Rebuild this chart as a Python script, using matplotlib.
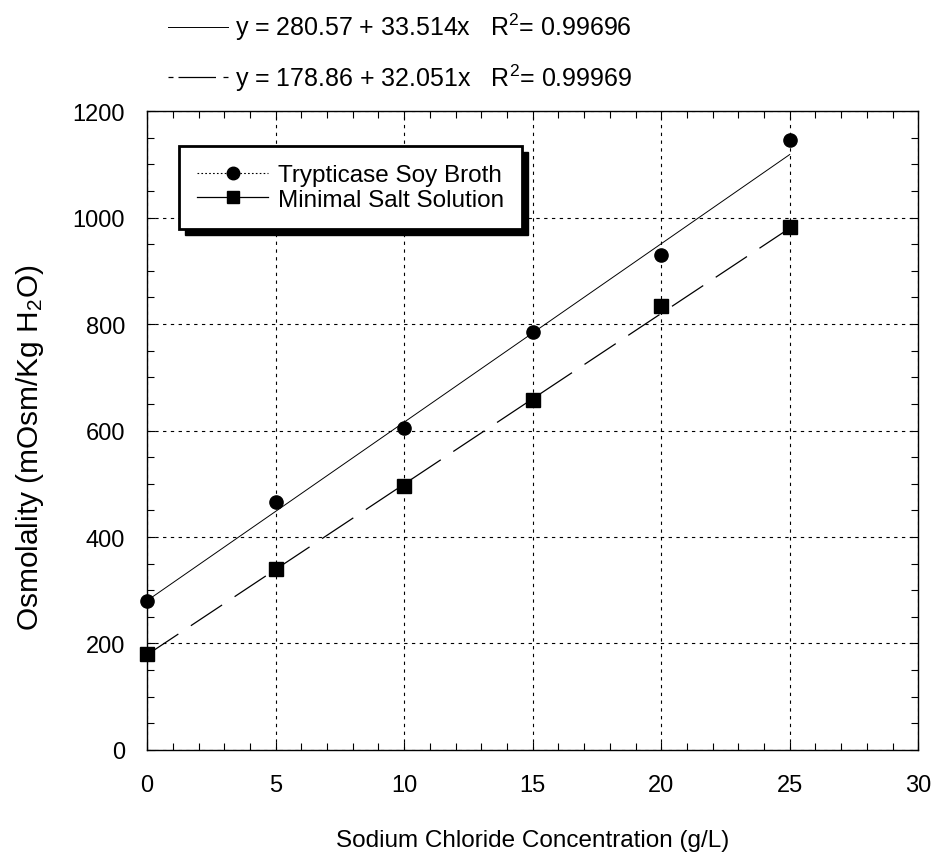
import matplotlib
matplotlib.use("Agg")
import matplotlib.pyplot as plt
import numpy as np
from matplotlib.lines import Line2D
from matplotlib.patches import Rectangle
from matplotlib.ticker import MultipleLocator

plt.rcParams["font.family"] = ["Liberation Sans", "DejaVu Sans"]
plt.rcParams["mathtext.default"] = "regular"

# ---------------------------------------------------------
# DATA
# ---------------------------------------------------------
nacl = [0, 5, 10, 15, 20, 25]
tsb = [280, 465, 605, 785, 930, 1145]
mss = [180, 340, 495, 657, 833, 983]

tsb_fit = (280.57, 33.514, 0.99696)
mss_fit = (178.86, 32.051, 0.99969)

# ---------------------------------------------------------
# FIGURE
# ---------------------------------------------------------
fig = plt.figure(figsize=(9.37, 8.53), dpi=100)
ax = fig.add_axes([0.157, 0.1196, 0.823, 0.749])

xfit = np.array([nacl[0], nacl[-1]])
fit1, = ax.plot(xfit, tsb_fit[0] + tsb_fit[1] * xfit, color="black", lw=0.7)
fit2, = ax.plot(xfit, mss_fit[0] + mss_fit[1] * xfit, color="black", lw=0.9,
                dashes=(30, 12))

ax.plot(nacl, tsb, linestyle="none", marker="o", ms=9.5, color="black",
        clip_on=False, zorder=3)
ax.plot(nacl, mss, linestyle="none", marker="s", ms=10, color="black",
        clip_on=False, zorder=3)

ax.set_xlim(0, 30)
ax.set_ylim(0, 1200)
ax.xaxis.set_major_locator(MultipleLocator(5))
ax.xaxis.set_minor_locator(MultipleLocator(1))
ax.yaxis.set_major_locator(MultipleLocator(200))
ax.yaxis.set_minor_locator(MultipleLocator(50))
ax.tick_params(which="both", direction="in", top=True, right=True, width=0.8)
ax.tick_params(which="major", length=6)
ax.tick_params(which="minor", length=5)
ax.tick_params(axis="x", which="major", labelsize=17, pad=17)
ax.tick_params(axis="y", which="major", labelsize=17, pad=16)
for s in ax.spines.values():
    s.set_linewidth(1.0)

ax.grid(True, which="major", color="black", lw=0.8, linestyle=(0, (3, 4)))

ax.set_xlabel("Sodium Chloride Concentration (g/L)", fontsize=17.5, labelpad=24)
ax.set_ylabel("Osmolality (mOsm/Kg H$_2$O)", fontsize=21.5, labelpad=19)
ax.yaxis.label.set_y(0.475)

# series legend with a hard black shadow
h1 = Line2D([], [], color="black", lw=0.8, linestyle=(0, (1.5, 2)),
            marker="o", ms=9)
h2 = Line2D([], [], color="black", lw=0.9, marker="s", ms=9)
leg = ax.legend([h1, h2], ["Trypticase Soy Broth", "Minimal Salt Solution"],
                loc="upper left", bbox_to_anchor=(0.0415, 0.945),
                borderaxespad=0, fontsize=17.5, frameon=True, fancybox=False,
                handlelength=2.9, handletextpad=0.4, labelspacing=0.1,
                borderpad=0.75)
leg.get_frame().set_edgecolor("black")
leg.get_frame().set_linewidth(2.0)
leg.get_frame().set_alpha(1)
leg.set_zorder(6)

fig.canvas.draw()
bb = leg.get_window_extent().transformed(ax.transAxes.inverted())
dx, dy = 6 / 771, 6 / 639
ax.add_patch(Rectangle((bb.x0 + dx, bb.y0 - dy), bb.width, bb.height,
                       transform=ax.transAxes, color="black", zorder=5.5,
                       clip_on=False))

# fit equations above the plot
lab1 = f"y = {tsb_fit[0]:.2f} + {tsb_fit[1]:.3f}x   R$^2$= {tsb_fit[2]:.5f}"
lab2 = f"y = {mss_fit[0]:.2f} + {mss_fit[1]:.3f}x   R$^2$= {mss_fit[2]:.5f}"
k1 = Line2D([], [], color="black", lw=0.7)
k2 = Line2D([], [], color="black", lw=0.9, linestyle=(0, (4, 4, 30, 6)))
fig.legend([k1, k2], [lab1, lab2], loc="upper left",
           bbox_to_anchor=(158 / 937, 1 - 2 / 853), frameon=False,
           fontsize=18, handlelength=2.4, handletextpad=0.3,
           labelspacing=0.75, borderaxespad=0)

fig.savefig("out.png", dpi=100)
